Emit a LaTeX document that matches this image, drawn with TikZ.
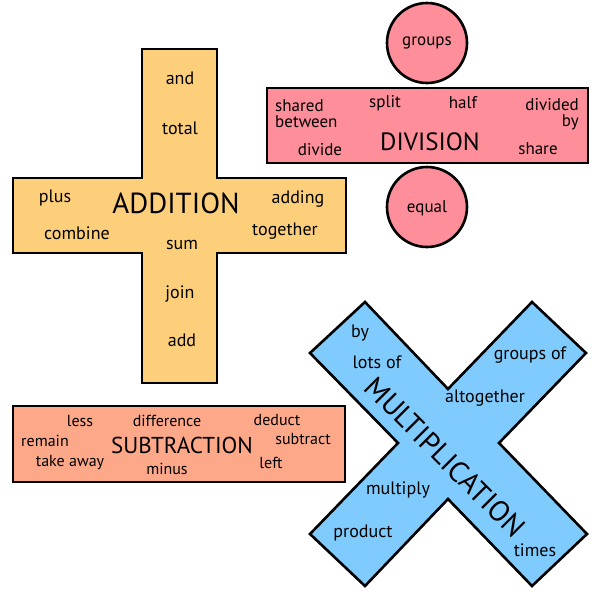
\documentclass[tikz,border=0pt]{standalone}
\usepackage{fontspec}
\setmainfont{PT Sans}
\definecolor{addcol}{HTML}{FECF7B}
\definecolor{divcol}{HTML}{FD8E9A}
\definecolor{subcol}{HTML}{FEA88A}
\definecolor{mulcol}{HTML}{80CBFD}
\begin{document}
\begin{tikzpicture}[
    x=1pt, y=-1pt,
    card/.style={draw=black, line width=2.6pt, line join=miter},
    word/.style={font=\fontsize{18}{19}\selectfont, inner sep=0pt},
    title/.style={font=\fontsize{28}{28}\selectfont, inner sep=0pt}
]
\useasboundingbox (0,0) rectangle (600,600);

% Shapes
\draw [card, fill=addcol] (142,49) -- (217,49) -- (217,178) -- (346,178) -- (346,253) -- (217,253)
    -- (217,383) -- (142,383) -- (142,253) -- (13,253) -- (13,178) -- (142,178) -- cycle;
\draw [card, fill=divcol] (267,88) rectangle (588,163);
\draw [card, fill=divcol] (427,43) circle (40);
\draw [card, fill=divcol] (427,207) circle (40);
\draw [card, fill=subcol] (13,406) rectangle (345,482);
\draw [card, fill=mulcol] (365,302) -- (448,389) -- (532,302) -- (586,353) -- (499,443) -- (587,534)
    -- (532,586) -- (448,499) -- (365,586) -- (310,534) -- (398,443) -- (310,353) -- cycle;

% Addition
\node (addition) [title, font=\fontsize{29}{29}\selectfont] at (176,203) {ADDITION};
\node (and) [word] at (180,78) {and};
\node (total) [word] at (180,128) {total};
\node (plus) [word] at (55,198) {plus};
\node (combine) [word] at (77,233) {combine};
\node (sum) [word] at (182,245) {sum};
\node (adding) [word] at (298,199) {adding};
\node (together) [word] at (285,231) {together};
\node (join) [word] at (180,294) {join};
\node (add) [word] at (182,340) {add};

% Division
\node (division) [title, font=\fontsize{25}{25}\selectfont] at (430,142) {DIVISION};
\node (groups) [word, font=\fontsize{17}{17}\selectfont] at (427,43) {groups};
\node (equal) [word, font=\fontsize{17}{17}\selectfont] at (427,208) {equal};
\node (shared) [word, align=left, anchor=west, font=\fontsize{17}{16}\selectfont] at (275,114) {shared\\between};
\node (split) [word, font=\fontsize{17}{17}\selectfont] at (385,103) {split};
\node (half) [word, font=\fontsize{17}{17}\selectfont] at (463,103) {half};
\node (divided) [word, align=right, anchor=east, font=\fontsize{17}{16}\selectfont] at (579,114) {divided\\by};
\node (divide) [word, font=\fontsize{17}{17}\selectfont] at (320,150) {divide};
\node (share) [word, font=\fontsize{17}{17}\selectfont] at (538,149) {share};

% Subtraction
\node (subtraction) [title, font=\fontsize{23}{23}\selectfont] at (182,445) {SUBTRACTION};
\node (less) [word, font=\fontsize{16}{16}\selectfont] at (80,421) {less};
\node (difference) [word, font=\fontsize{16}{16}\selectfont] at (167,421) {difference};
\node (deduct) [word, font=\fontsize{16}{16}\selectfont] at (277,420) {deduct};
\node (remain) [word, font=\fontsize{16}{16}\selectfont] at (45,441) {remain};
\node (subtract) [word, font=\fontsize{16}{16}\selectfont] at (303,439) {subtract};
\node (takeaway) [word, font=\fontsize{16}{16}\selectfont] at (70,463) {take away};
\node (minus) [word, font=\fontsize{16}{16}\selectfont] at (167,469) {minus};
\node (left) [word, font=\fontsize{16}{16}\selectfont] at (271,463) {left};

% Multiplication
\node (multiplication) [title, font=\fontsize{29}{29}\selectfont, rotate=-45] at (445,457) {MULTIPLICATION};
\node (by) [word] at (360,333) {by};
\node (lotsof) [word] at (377,362) {lots of};
\node (groupsof) [word] at (530,355) {groups of};
\node (altogether) [word] at (485,398) {altogether};
\node (multiply) [word] at (398,490) {multiply};
\node (product) [word] at (363,533) {product};
\node (times) [word] at (535,550) {times};

\end{tikzpicture}
\end{document}
